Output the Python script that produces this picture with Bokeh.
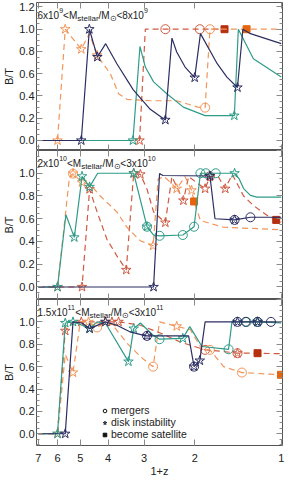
from bokeh.plotting import figure
from bokeh.models import (Range1d, FixedTicker, LogAxis, LinearAxis, PrintfTickFormatter,
                          ColumnDataSource, Legend, LegendItem)
from bokeh.layouts import column
from bokeh.embed import file_html
from bokeh.resources import INLINE
from bokeh.core.properties import value

# ---------------- data (x = 1+z, y = B/T, ev = event at that point) ----------------
# ev codes: "" none, "m" merger, "d" disk instability, "md" both, "s" become satellite
X_TICKS = [1, 2, 3, 4, 5, 6, 7]
Y_TICKS_TOP = [0.0, 0.2, 0.4, 0.6, 0.8, 1.0, 1.2]
Y_TICKS = [0.0, 0.2, 0.4, 0.6, 0.8, 1.0]
Y_MINOR = [-0.1, -0.05, 0.05, 0.1, 0.15, 0.25, 0.3, 0.35, 0.45, 0.5, 0.55, 0.65, 0.7, 0.75,
           0.85, 0.9, 0.95, 1.05, 1.1, 1.15, 1.25]

TITLE1 = [("6x10", "n"), ("9", "sup"), ("<M", "n"), ("stellar", "sub"), ("/M", "n"),
          ("\u2299", "sub"), ("<8x10", "n"), ("9", "sup")]
TITLE2 = [("2x10", "n"), ("10", "sup"), ("<M", "n"), ("stellar", "sub"), ("/M", "n"),
          ("\u2299", "sub"), ("<3x10", "n"), ("10", "sup")]
TITLE3 = [("1.5x10", "n"), ("11", "sup"), ("<M", "n"), ("stellar", "sub"), ("/M", "n"),
          ("\u2299", "sub"), ("<3x10", "n"), ("11", "sup")]

# Panel 1
P1_NAVY_X = [7.0, 4.96, 4.65, 4.36, 4.08, 3.73, 3.27, 2.855, 2.53, 2.40, 2.31, 2.16, 2.00, 1.91, 1.67, 1.545, 1.42, 1.36, 1.28, 1.0]
P1_NAVY_Y = [0.0, 0.0, 1.0, 0.75, 0.87, 0.69, 0.455, 0.28, 0.185, 0.92, 0.795, 0.66, 0.565, 0.96, 0.69, 0.57, 0.476, 1.0, 0.96, 0.87]
P1_NAVY_EV = ["", "d", "d", "d", "", "", "", "", "d", "", "", "", "d", "", "", "", "d", "", "", ""]

P1_TEAL_X = [7.0, 3.28, 3.10, 2.97, 2.78, 2.50, 2.19, 1.84, 1.456, 1.41, 1.25, 1.0]
P1_TEAL_Y = [0.0, 0.0, 0.845, 0.66, 0.527, 0.42, 0.30, 0.223, 0.223, 1.0, 0.735, 0.57]
P1_TEAL_EV = ["", "d", "", "", "", "", "", "", "d", "", "", ""]

P1_ORANGE_X = [7.0, 6.0, 5.64, 4.96, 4.65, 4.37, 3.93, 3.68, 3.44, 2.855, 2.31, 1.95, 1.84, 1.77, 1.32, 1.0]
P1_ORANGE_Y = [0.0, 0.0, 1.0, 0.82, 0.96, 0.765, 0.60, 0.42, 0.37, 0.357, 0.357, 0.30, 0.295, 1.0, 1.0, 1.0]
P1_ORANGE_EV = ["", "d", "d", "d", "", "d", "", "", "", "", "", "", "m", "m", "s", ""]

P1_RED_X = [7.0, 3.11, 2.97, 2.53, 1.92, 1.575]
P1_RED_Y = [0.0, 0.0, 1.0, 1.0, 1.0, 1.0]
P1_RED_EV = ["", "d", "", "m", "m", "s"]

# Panel 2
P2_TEAL_X = [7.0, 6.0, 5.61, 5.245, 4.93, 4.64, 4.35, 3.26, 2.93, 2.78, 2.65, 2.20, 2.01, 1.91, 1.83, 1.69, 1.453, 1.40, 1.352, 1.28, 1.215, 1.0]
P2_TEAL_Y = [0.0, 0.0, 0.635, 0.436, 0.973, 0.88, 1.0, 1.0, 0.53, 0.457, 0.45, 0.457, 0.53, 1.0, 1.0, 1.0, 1.0, 0.95, 0.865, 0.805, 0.79, 0.79]
P2_TEAL_EV = ["", "d", "", "d", "d", "d", "", "d", "md", "", "m", "m", "m", "m", "m", "m", "d", "", "", "", "", ""]

P2_NAVY_X = [7.0, 2.78, 2.65, 2.58, 1.77, 1.70, 1.453, 1.28, 1.0]
P2_NAVY_Y = [0.0, 0.0, 0.997, 0.98, 0.976, 0.60, 0.59, 0.613, 0.613]
P2_NAVY_EV = ["", "d", "", "", "d", "", "md", "m", ""]

P2_ORANGE_X = [7.0, 6.0, 5.45, 5.30, 4.93, 4.61, 4.26, 3.73, 3.44, 3.18, 3.09, 2.79, 2.68, 2.55, 2.31, 2.16, 2.05, 2.01, 1.91, 1.587, 1.0]
P2_ORANGE_Y = [0.0, 0.0, 0.97, 0.997, 0.92, 0.90, 0.80, 0.66, 0.525, 0.436, 0.407, 0.363, 0.95, 0.97, 0.864, 0.97, 0.85, 0.752, 0.584, 0.525, 0.504]
P2_ORANGE_EV = ["", "d", "", "md", "d", "", "", "", "", "", "", "d", "", "", "d", "", "d", "s", "", "", ""]

P2_RED_X = [7.0, 4.93, 4.64, 4.37, 4.04, 3.73, 3.46, 3.26, 3.09, 2.93, 2.78, 2.53, 2.40, 2.19, 2.10, 1.84, 1.77, 1.656, 1.566, 1.48, 1.352, 1.25, 1.121, 1.041, 1.0]
P2_RED_Y = [0.0, 0.0, 0.86, 0.66, 0.42, 0.274, 0.15, 1.0, 0.99, 0.86, 0.66, 0.566, 0.97, 0.76, 0.97, 0.864, 0.973, 0.97, 0.864, 0.99, 0.80, 0.717, 0.63, 0.59, 0.57]
P2_RED_EV = ["", "d", "d", "", "", "", "d", "d", "d", "", "", "d", "", "d", "", "d", "md", "", "d", "", "", "", "", "s", ""]

# Panel 3
P3_TEAL_X = [7.0, 6.0, 5.64, 5.30, 4.93, 4.64, 4.37, 4.09, 3.40, 3.26, 3.09, 2.79, 2.65, 2.20, 2.08, 1.887, 1.525, 1.484, 1.32, 1.209, 1.0]
P3_TEAL_Y = [0.0, 0.0, 0.99, 1.0, 0.97, 0.94, 1.0, 0.99, 0.645, 0.94, 0.99, 0.88, 0.845, 0.853, 0.958, 0.78, 0.755, 1.0, 1.0, 1.0, 0.99]
P3_TEAL_EV = ["", "d", "d", "d", "", "d", "", "", "d", "d", "", "", "m", "d", "", "", "m", "", "m", "md", ""]

P3_NAVY_X = [7.0, 5.64, 5.30, 4.93, 4.64, 4.09, 3.73, 3.35, 3.01, 2.93, 2.10, 2.01, 1.92, 1.84, 1.42, 1.33, 1.209, 1.086, 1.0]
P3_NAVY_Y = [0.0, 0.0, 1.0, 0.99, 0.94, 1.0, 0.97, 0.91, 0.88, 0.875, 0.875, 0.60, 0.654, 1.0, 1.0, 1.0, 1.0, 1.0, 1.0]
P3_NAVY_EV = ["", "d", "", "", "d", "d", "", "", "", "md", "", "md", "d", "", "md", "m", "md", "m", ""]

P3_ORANGE_X = [7.0, 6.0, 5.64, 5.30, 5.00, 4.68, 4.37, 4.09, 3.88, 3.44, 3.09, 2.855, 2.79, 2.65, 2.31, 2.07, 1.887, 1.77, 1.587, 1.37, 1.002]
P3_ORANGE_Y = [0.0, 0.0, 0.71, 0.547, 1.0, 1.0, 0.95, 1.0, 0.98, 0.81, 0.69, 0.616, 0.60, 1.0, 0.96, 0.93, 0.755, 0.75, 0.60, 0.547, 0.527]
P3_ORANGE_EV = ["", "d", "", "d", "", "d", "m", "d", "", "", "", "", "m", "", "d", "", "", "m", "", "m", "s"]

P3_RED_X = [7.0, 6.0, 5.64, 5.30, 4.96, 4.37, 3.88, 3.68, 3.26, 3.09, 2.635, 2.245, 1.84, 1.587, 1.42, 1.209, 1.0]
P3_RED_Y = [0.0, 0.0, 0.92, 1.0, 1.0, 1.0, 1.0, 1.0, 0.98, 0.97, 0.90, 0.82, 0.75, 0.735, 0.72, 0.72, 0.715]
P3_RED_EV = ["", "", "d", "", "d", "", "d", "d", "", "", "", "", "m", "", "md", "s", ""]

LEGEND_LABELS = ["mergers", "disk instability", "become satellite"]
NAN = float("nan")

# ---------------- styling ----------------
FONT = "Liberation Sans"
NAVY = "#2b2e62"
TEAL = "#2f9c88"
ORANGE = "#f29558"
ORANGE_SQ = "#e5650e"
RED = "#cf5a42"
RED_SQ = "#b5300f"
TICK = "#8a8a8a"
FRAME = "#555555"
TXT = "#222222"

CW = {'0': .556, '1': .556, '2': .556, '3': .556, '5': .556, '6': .556, '8': .556, '9': .556,
      '.': .278, 'x': .5, '<': .584, 'M': .833, '/': .278, 's': .5, 't': .278, 'e': .556,
      'l': .222, 'a': .556, 'r': .333, '\u2299': .84}
SIZES = {"n": 10.0, "sup": 7.0, "sub": 8.0}
DY = {"n": 13.0, "sup": 8.0, "sub": 15.5}


def style_axis(ax, labels):
    ax.major_tick_in = 6
    ax.major_tick_out = 0
    ax.minor_tick_in = 3
    ax.minor_tick_out = 0
    ax.major_tick_line_color = TICK
    ax.minor_tick_line_color = TICK
    ax.axis_line_color = None
    if labels:
        ax.major_label_text_font = FONT
        ax.major_label_text_font_size = "11px"
        ax.major_label_text_color = TXT
        ax.major_label_standoff = 2
    else:
        ax.major_label_text_font_size = "0px"
        ax.major_label_text_alpha = 0
        ax.major_label_text_color = None
        ax.major_label_standoff = 0


def make_panel(y0, y1, fh, top_label, bottom_labels, border_top):
    p = figure(frame_width=246, frame_height=fh, x_axis_type="log",
               x_range=Range1d(7.1, 0.99), y_range=Range1d(y0, y1),
               output_backend="svg", toolbar_location=None,
               min_border_left=33, min_border_right=6, min_border_top=border_top,
               min_border_bottom=0, background_fill_color="white",
               border_fill_color="white")
    p.grid.visible = False
    p.outline_line_color = FRAME
    p.outline_line_width = 1

    xt = FixedTicker(ticks=X_TICKS, minor_ticks=[])
    yt = FixedTicker(ticks=Y_TICKS_TOP if top_label else Y_TICKS, minor_ticks=Y_MINOR)
    yt_r = FixedTicker(ticks=Y_TICKS_TOP, minor_ticks=Y_MINOR)

    bx = p.xaxis[0]
    bx.ticker = xt
    bx.formatter = PrintfTickFormatter(format="%d")
    style_axis(bx, bottom_labels)
    if bottom_labels:
        bx.major_label_standoff = 8
        bx.axis_label = "1+z"
        bx.axis_label_text_font = FONT
        bx.axis_label_text_font_size = "11px"
        bx.axis_label_text_font_style = "normal"
        bx.axis_label_text_color = TXT
        bx.axis_label_standoff = 0

    ly = p.yaxis[0]
    ly.ticker = yt
    ly.formatter = PrintfTickFormatter(format="%.1f")
    style_axis(ly, True)
    ly.axis_label = "B/T"
    ly.axis_label_text_font = FONT
    ly.axis_label_text_font_size = "11px"
    ly.axis_label_text_font_style = "normal"
    ly.axis_label_text_color = TXT
    ly.axis_label_standoff = 1

    ry = LinearAxis(ticker=yt_r)
    style_axis(ry, False)
    p.add_layout(ry, "right")
    tx = LogAxis(ticker=xt)
    style_axis(tx, False)
    p.add_layout(tx, "above")
    return p


def add_series(p, xs, ys, ev, color, sq_color, dash):
    p.line(xs, ys, line_color=color, line_width=1.2, line_dash=dash)
    cx = [x for x, e in zip(xs, ev) if "m" in e]
    cy = [y for y, e in zip(ys, ev) if "m" in e]
    sx = [x for x, e in zip(xs, ev) if "d" in e]
    sy = [y for y, e in zip(ys, ev) if "d" in e]
    qx = [x for x, e in zip(xs, ev) if "s" in e]
    qy = [y for y, e in zip(ys, ev) if "s" in e]
    p.scatter(cx, cy, marker="circle", size=9, fill_color=None, line_color=color, line_width=1)
    p.scatter(sx, sy, marker="star", size=10, fill_color=None, line_color=color, line_width=1)
    p.scatter(qx, qy, marker="square", size=7, fill_color=sq_color, line_color=sq_color)


def add_title(p, segs):
    xr, yr = p.x_range, p.y_range
    txt, xo, yo, fs = [], [], [], []
    pos = 1.0
    for t, kind in segs:
        s = SIZES[kind]
        txt.append(t)
        xo.append(pos)
        yo.append(DY[kind])
        fs.append("%gpx" % s)
        pos += sum(CW.get(c, .556) for c in t) * s
    n = len(txt)
    src = ColumnDataSource(dict(x=[xr.start] * n, y=[yr.end] * n, text=txt, xo=xo, yo=yo, fs=fs))
    p.text(x="x", y="y", text="text", x_offset="xo", y_offset="yo", text_font_size="fs",
           text_font=value(FONT), text_color=TXT, text_baseline="alphabetic",
           text_align="left", source=src)


p1 = make_panel(-0.09, 1.24, 148, True, False, 2)
p2 = make_panel(-0.11, 1.20, 149, False, False, 0)
p3 = make_panel(-0.105, 1.20, 146, False, True, 0)

DASH = "6 4"
add_series(p1, P1_RED_X, P1_RED_Y, P1_RED_EV, RED, RED_SQ, DASH)
add_series(p1, P1_ORANGE_X, P1_ORANGE_Y, P1_ORANGE_EV, ORANGE, ORANGE_SQ, DASH)
add_series(p1, P1_TEAL_X, P1_TEAL_Y, P1_TEAL_EV, TEAL, TEAL, "solid")
add_series(p1, P1_NAVY_X, P1_NAVY_Y, P1_NAVY_EV, NAVY, NAVY, "solid")

add_series(p2, P2_RED_X, P2_RED_Y, P2_RED_EV, RED, RED_SQ, DASH)
add_series(p2, P2_ORANGE_X, P2_ORANGE_Y, P2_ORANGE_EV, ORANGE, ORANGE_SQ, DASH)
add_series(p2, P2_TEAL_X, P2_TEAL_Y, P2_TEAL_EV, TEAL, TEAL, "solid")
add_series(p2, P2_NAVY_X, P2_NAVY_Y, P2_NAVY_EV, NAVY, NAVY, "solid")

add_series(p3, P3_RED_X, P3_RED_Y, P3_RED_EV, RED, RED_SQ, DASH)
add_series(p3, P3_ORANGE_X, P3_ORANGE_Y, P3_ORANGE_EV, ORANGE, ORANGE_SQ, DASH)
add_series(p3, P3_TEAL_X, P3_TEAL_Y, P3_TEAL_EV, TEAL, TEAL, "solid")
add_series(p3, P3_NAVY_X, P3_NAVY_Y, P3_NAVY_EV, NAVY, NAVY, "solid")

add_title(p1, TITLE1)
add_title(p2, TITLE2)
add_title(p3, TITLE3)

# legend (black symbols); renderers hold a single NaN point so nothing is drawn in the plot
r_m = p3.scatter([NAN], [NAN], marker="circle", size=9, fill_color=None, line_color="#111111")
r_d = p3.scatter([NAN], [NAN], marker="star", size=10, fill_color=None, line_color="#111111")
r_s = p3.scatter([NAN], [NAN], marker="square", size=7, fill_color="#111111", line_color="#111111")
legend = Legend(items=[LegendItem(label=LEGEND_LABELS[0], renderers=[r_m]),
                       LegendItem(label=LEGEND_LABELS[1], renderers=[r_d]),
                       LegendItem(label=LEGEND_LABELS[2], renderers=[r_s])],
                location=(64, 5), background_fill_alpha=0, border_line_color=None,
                glyph_width=9, glyph_height=11, label_height=11, spacing=0, padding=0,
                margin=0, label_standoff=2, label_text_font=FONT,
                label_text_font_size="10.5px", label_text_color=TXT)
p3.add_layout(legend, "center")

layout = column(p1, p2, p3, spacing=0)
open("out.html", "w").write(file_html(layout, INLINE))
